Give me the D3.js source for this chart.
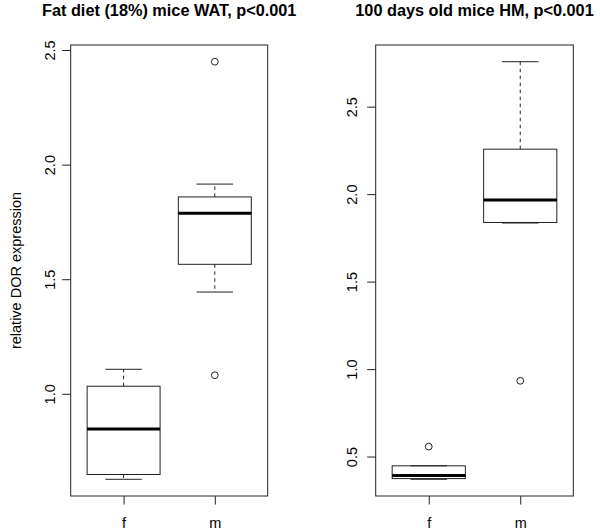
<!DOCTYPE html>
<html>
<head>
<meta charset="utf-8">
<script src="https://cdn.jsdelivr.net/npm/d3@7"></script>
<style>
  html, body { margin: 0; padding: 0; background: #fff; }
  svg { display: block; }
  text { font-family: "Liberation Sans", Arial, Helvetica, sans-serif; fill: #000; }
</style>
</head>
<body>
<svg id="chart" width="600" height="531"></svg>
<script>
// ---- data ----
const categories = ["f", "m"];
const yLabel = "relative DOR expression";

const watTitle = "Fat diet (18%) mice WAT, p<0.001";
// [lower whisker, Q1, median, Q3, upper whisker]
const watF = [0.627, 0.648, 0.846, 1.033, 1.107];
const watM = [1.444, 1.565, 1.788, 1.859, 1.915];
const watOutF = [];
const watOutM = [1.081, 2.449];
const watTicks = [1.0, 1.5, 2.0, 2.5];

const hmTitle = "100 days old mice HM, p<0.001";
const hmF = [0.370, 0.374, 0.391, 0.447, 0.447];
const hmM = [1.835, 1.838, 1.966, 2.257, 2.757];
const hmOutF = [0.557];
const hmOutM = [0.933];
const hmTicks = [0.5, 1.0, 1.5, 2.0, 2.5];

const panels = [
  { title: watTitle, stats: [watF, watM], outliers: [watOutF, watOutM], ticks: watTicks,
    x0: 70.7, x1: 267.7, labelOffset: 15.5, showYLabel: true },
  { title: hmTitle, stats: [hmF, hmM], outliers: [hmOutF, hmOutM], ticks: hmTicks,
    x0: 375.7, x1: 573.3, labelOffset: 19, showYLabel: false }
];

const svg = d3.select("#chart");
const yTop = 45, yBot = 496;
const fontAxis = 14.5, fontTitle = 16.3;

panels.forEach(p => {
  const g = svg.append("g");
  // R-style 4% extension of ranges
  const allVals = p.stats.flat().concat(p.outliers.flat());
  const [mn, mx] = d3.extent(allVals);
  const ext = (mx - mn) * 0.04;
  const y = d3.scaleLinear().domain([mn - ext, mx + ext]).range([yBot, yTop]);
  const x = d3.scaleLinear().domain([0.5 - 0.08, categories.length + 0.5 + 0.08]).range([p.x0, p.x1]);
  const unit = x(1) - x(0);
  const boxW = 0.8 * unit, capW = 0.5 * boxW;

  // frame
  g.append("rect").attr("x", p.x0).attr("y", yTop)
    .attr("width", p.x1 - p.x0).attr("height", yBot - yTop)
    .attr("fill", "none").attr("stroke", "#222").attr("stroke-width", 1);

  // y axis (ticks on left)
  const yAxis = d3.axisLeft(y).tickValues(p.ticks).tickFormat(d3.format(".1f"))
    .tickSize(8.5).tickPadding(0);
  const ya = g.append("g").attr("transform", `translate(${p.x0},0)`).call(yAxis);
  ya.select(".domain").remove();
  ya.selectAll(".tick line").attr("stroke", "#222");
  ya.selectAll(".tick text")
    .attr("x", 0).attr("dy", null)
    .attr("transform", `translate(${-p.labelOffset},0) rotate(-90)`)
    .attr("text-anchor", "middle")
    .style("font-size", fontAxis + "px")
    .style("font-family", '"Liberation Sans", Arial, sans-serif');

  // x axis
  const xAxis = d3.axisBottom(x).tickValues(categories.map((c, i) => i + 1))
    .tickFormat((d) => categories[d - 1]).tickSize(8.5).tickPadding(0);
  const xa = g.append("g").attr("transform", `translate(0,${yBot})`).call(xAxis);
  xa.select(".domain").remove();
  xa.selectAll(".tick line").attr("stroke", "#222");
  xa.selectAll(".tick text").attr("y", 31.5).attr("dy", null)
    .style("font-size", fontAxis + "px")
    .style("font-family", '"Liberation Sans", Arial, sans-serif');

  // boxes
  p.stats.forEach((s, i) => {
    const cx = x(i + 1);
    const [lw, q1, md, q3, uw] = s;
    const bg = g.append("g");
    // whiskers
    bg.append("line").attr("x1", cx).attr("x2", cx).attr("y1", y(q3)).attr("y2", y(uw))
      .attr("stroke", "#222").attr("stroke-dasharray", "3.5,3.5");
    bg.append("line").attr("x1", cx).attr("x2", cx).attr("y1", y(q1)).attr("y2", y(lw))
      .attr("stroke", "#222").attr("stroke-dasharray", "3.5,3.5");
    // staples
    [lw, uw].forEach(v => bg.append("line")
      .attr("x1", cx - capW / 2).attr("x2", cx + capW / 2)
      .attr("y1", y(v)).attr("y2", y(v)).attr("stroke", "#222"));
    // box
    bg.append("rect").attr("x", cx - boxW / 2).attr("y", y(q3))
      .attr("width", boxW).attr("height", y(q1) - y(q3))
      .attr("fill", "none").attr("stroke", "#222");
    // median
    bg.append("line").attr("x1", cx - boxW / 2).attr("x2", cx + boxW / 2)
      .attr("y1", y(md)).attr("y2", y(md)).attr("stroke", "#000").attr("stroke-width", 3);
    // outliers
    p.outliers[i].forEach(v => bg.append("circle").attr("cx", cx).attr("cy", y(v))
      .attr("r", 3.4).attr("fill", "none").attr("stroke", "#222"));
  });

  // title
  g.append("text").attr("x", (p.x0 + p.x1) / 2).attr("y", 16)
    .attr("text-anchor", "middle").style("font-weight", "bold")
    .style("font-size", fontTitle + "px").text(p.title);

  if (p.showYLabel) {
    g.append("text")
      .attr("transform", `translate(21,${(yTop + yBot) / 2}) rotate(-90)`)
      .attr("text-anchor", "middle").style("font-size", fontAxis + "px")
      .text(yLabel);
  }
});
</script>
</body>
</html>
